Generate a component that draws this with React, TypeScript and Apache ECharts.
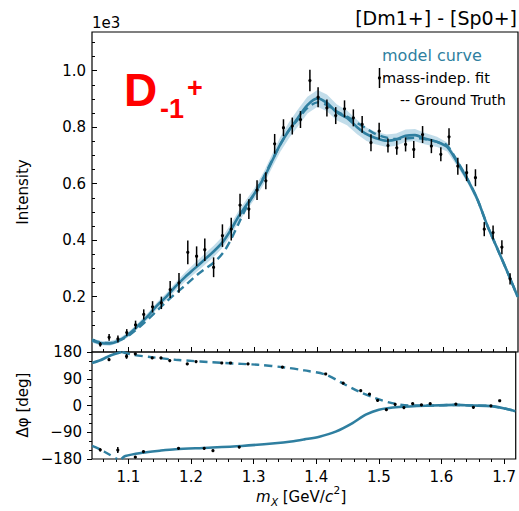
import React, { useEffect, useRef } from "react";
import * as echarts from "echarts";

// ---------- data ----------
const massBins = [1.055,1.069,1.083,1.097,1.111,1.124,1.138,1.152,1.166,1.180,1.194,1.208,1.221,1.235,1.249,1.263,1.277,1.291,1.304,1.318,1.332,1.346,1.360,1.373,1.388,1.401,1.415,1.429,1.443,1.457,1.471,1.485,1.498,1.512,1.526,1.540,1.553,1.567,1.581,1.596,1.609,1.623,1.637,1.651,1.665,1.679,1.693,1.706];
const intensity = [0.031,0.056,0.050,0.073,0.100,0.137,0.164,0.178,0.225,0.249,0.357,0.343,0.366,0.304,0.416,0.439,0.524,0.510,0.577,0.610,0.741,0.798,0.804,0.827,0.965,0.906,0.868,0.841,0.865,0.833,0.810,0.745,0.786,0.735,0.727,0.739,0.721,0.774,0.733,0.704,0.766,0.662,0.639,0.621,0.439,0.427,0.375,0.263];
const intensityErr = [0.008,0.012,0.012,0.012,0.015,0.018,0.020,0.022,0.030,0.035,0.042,0.035,0.040,0.035,0.040,0.040,0.040,0.035,0.035,0.030,0.035,0.030,0.030,0.030,0.038,0.035,0.030,0.030,0.030,0.030,0.030,0.030,0.030,0.025,0.025,0.025,0.030,0.030,0.025,0.025,0.030,0.030,0.030,0.030,0.025,0.025,0.025,0.020];

const curveMass = [1.042,1.055,1.070,1.085,1.100,1.115,1.130,1.145,1.160,1.175,1.190,1.205,1.220,1.235,1.250,1.262,1.275,1.288,1.300,1.315,1.330,1.341,1.355,1.368,1.384,1.400,1.415,1.431,1.447,1.463,1.478,1.492,1.510,1.525,1.540,1.555,1.570,1.590,1.606,1.622,1.638,1.654,1.670,1.686,1.702,1.718];
const modelIntensity = [0.045,0.036,0.034,0.045,0.067,0.097,0.130,0.168,0.200,0.237,0.270,0.300,0.330,0.360,0.395,0.435,0.485,0.527,0.565,0.621,0.690,0.739,0.790,0.830,0.878,0.902,0.886,0.852,0.833,0.800,0.775,0.762,0.752,0.756,0.770,0.772,0.760,0.748,0.730,0.676,0.616,0.545,0.451,0.369,0.286,0.200];
const truthIntensity = [0.048,0.038,0.036,0.045,0.062,0.088,0.118,0.150,0.182,0.212,0.240,0.270,0.296,0.320,0.355,0.400,0.460,0.520,0.565,0.625,0.692,0.739,0.790,0.825,0.868,0.888,0.878,0.855,0.838,0.815,0.795,0.776,0.763,0.758,0.760,0.762,0.758,0.748,0.735,0.680,0.618,0.545,0.451,0.369,0.286,0.200];
const bandHalf = [0.008,0.008,0.008,0.008,0.009,0.010,0.011,0.012,0.013,0.014,0.016,0.018,0.020,0.020,0.020,0.020,0.020,0.020,0.020,0.022,0.024,0.026,0.028,0.030,0.030,0.030,0.030,0.028,0.026,0.025,0.024,0.022,0.022,0.022,0.022,0.022,0.020,0.018,0.016,0.014,0.012,0.012,0.010,0.010,0.010,0.010];

// phase panel
const modelPhaseA = [[1.042,143],[1.055,152],[1.066,163],[1.078,173],[1.089,180]];
const modelPhaseB = [[1.089,-180],[1.095,-170],[1.122,-159],[1.150,-152],[1.175,-147],[1.228,-142],[1.281,-136],[1.334,-127],[1.360,-121],[1.381,-114],[1.405,-105],[1.431,-88],[1.458,-59],[1.479,-31],[1.500,-14],[1.532,-5],[1.585,0],[1.622,2],[1.648,0],[1.680,-2],[1.701,-10],[1.718,-19]];
const truthPhaseA = [[1.042,-136],[1.055,-148],[1.068,-163],[1.082,-180]];
const truthPhaseB = [[1.090,180],[1.106,171],[1.140,162],[1.175,154],[1.254,143],[1.307,137],[1.350,128],[1.381,118],[1.415,104],[1.441,76],[1.468,47],[1.494,25],[1.521,8],[1.548,0],[1.585,0],[1.622,2],[1.648,0],[1.680,-2],[1.701,-10],[1.718,-19]];
const phaseMass = [1.055,1.069,1.083,1.097,1.111,1.111,1.124,1.138,1.152,1.166,1.180,1.194,1.208,1.221,1.235,1.249,1.263,1.277,1.291,1.346,1.415,1.443,1.471,1.485,1.498,1.512,1.526,1.540,1.554,1.568,1.582,1.623,1.651,1.679,1.693];
const phaseDeg = [-149,154,-150,165,174,-174,-155,160,160,151,-144,140,148,-144,-152,143,143,-140,140,129,106,75,50,38,17,-14,4,-7,6,2,6,5,-6,-1,16];
const phaseErr = [5,4,10,8,3,2,3,3,3,3,2,2,2,2,2,2,2,2,2,2,3,2,2,2,2,2,3,2,2,2,2,2,2,2,2];

// axes
const X_MIN = 1.0418, X_MAX = 1.7186;
const xMajor = [1.1, 1.2, 1.3, 1.4, 1.5, 1.6, 1.7];
const yMajor = [0.2, 0.4, 0.6, 0.8, 1.0];
const phaseTicks = [-180, -90, 0, 90, 180];

const xMinor: number[] = [];
for (let k = 53; k <= 85; k++) xMinor.push(Math.round(k * 2) / 100);
const yMinor: number[] = [];
for (let k = 1; k <= 22; k++) yMinor.push(Math.round(k * 5) / 100);

const CURVE = "#2f7fa0";
const FONT = "DejaVu Sans";

export default function App() {
  const ref = useRef<HTMLDivElement>(null);
  useEffect(() => {
    const chart = echarts.init(ref.current!, undefined, { renderer: "svg" });

    const errRender = (params: any, api: any) => {
      const x = api.value(0), y = api.value(1), e = api.value(2);
      const t = api.coord([x, y + e]);
      const b = api.coord([x, y - e]);
      const c = api.coord([x, y]);
      return {
        type: "group",
        children: [
          { type: "line", shape: { x1: t[0], y1: t[1], x2: b[0], y2: b[1] }, style: { stroke: "#000", lineWidth: 1.5 } },
          { type: "circle", shape: { cx: c[0], cy: c[1], r: 1.6 }, style: { fill: "#000" } },
        ],
      };
    };

    const bandRender = (params: any, api: any) => {
      const up = curveMass.map((m, i) => api.coord([m, modelIntensity[i] + bandHalf[i]]));
      const lo = curveMass.map((m, i) => api.coord([m, modelIntensity[i] - bandHalf[i]])).reverse();
      return { type: "polygon", shape: { points: up.concat(lo) }, style: { fill: "rgba(120,180,208,0.45)" } };
    };

    const tickStyle = { color: "#000", width: 1 };
    const lbl = { color: "#000", fontSize: 15, fontFamily: FONT };
    const noLine = { show: false, onZero: false };

    const option: any = {
      animation: false,
      textStyle: { fontFamily: FONT },
      grid: [
        { left: 92, top: 32, width: 426, height: 320, show: true, borderColor: "#000", borderWidth: 1.2, backgroundColor: "transparent" },
        { left: 92, top: 352, width: 426, height: 107, show: true, borderColor: "#000", borderWidth: 1.2, backgroundColor: "transparent" },
      ],
      xAxis: [
        { gridIndex: 0, type: "value", position: "bottom", min: X_MIN, max: X_MAX, axisLine: noLine, splitLine: { show: false }, axisLabel: { show: false },
          axisTick: { show: true, inside: true, length: 5, customValues: xMajor, lineStyle: tickStyle } },
        { gridIndex: 0, type: "value", position: "bottom", min: X_MIN, max: X_MAX, axisLine: noLine, splitLine: { show: false }, axisLabel: { show: false },
          axisTick: { show: true, inside: true, length: 3, customValues: xMinor, lineStyle: tickStyle } },
        { gridIndex: 1, type: "value", position: "bottom", min: X_MIN, max: X_MAX, axisLine: noLine, splitLine: { show: false },
          axisLabel: { show: true, customValues: xMajor, margin: 10, formatter: (v: number) => v.toFixed(1), ...lbl },
          axisTick: { show: true, inside: false, length: 5, customValues: xMajor, lineStyle: tickStyle } },
        { gridIndex: 1, type: "value", position: "bottom", min: X_MIN, max: X_MAX, axisLine: noLine, splitLine: { show: false }, axisLabel: { show: false },
          axisTick: { show: true, inside: false, length: 3, customValues: xMinor, lineStyle: tickStyle } },
      ],
      yAxis: [
        { gridIndex: 0, type: "value", position: "left", min: 0.004, max: 1.137, axisLine: noLine, splitLine: { show: false },
          axisLabel: { show: true, customValues: yMajor, margin: 6, formatter: (v: number) => v.toFixed(1), ...lbl },
          axisTick: { show: true, inside: true, length: 5, customValues: yMajor, lineStyle: tickStyle } },
        { gridIndex: 0, type: "value", position: "left", min: 0.004, max: 1.137, axisLine: noLine, splitLine: { show: false }, axisLabel: { show: false },
          axisTick: { show: true, inside: true, length: 3, customValues: yMinor, lineStyle: tickStyle } },
        { gridIndex: 1, type: "value", position: "left", min: -180, max: 180, interval: 90, axisLine: noLine, splitLine: { show: false },
          axisLabel: { show: true, customValues: phaseTicks, margin: 10, formatter: (v: number) => (v < 0 ? "\u2212" + Math.abs(v) : String(v)), ...lbl },
          axisTick: { show: true, inside: false, length: 5, lineStyle: tickStyle },
          minorTick: { show: true, splitNumber: 3, length: 3, lineStyle: tickStyle } },
      ],
      series: [
        { type: "custom", xAxisIndex: 0, yAxisIndex: 0, renderItem: bandRender, data: [[1.4, 0.5]], encode: { x: 0, y: 1 }, silent: true, z: 1 },
        { type: "line", xAxisIndex: 0, yAxisIndex: 0, data: curveMass.map((m, i) => [m, truthIntensity[i]]), showSymbol: false, smooth: 0.3,
          lineStyle: { color: CURVE, width: 2.4, type: [8, 5] }, z: 2 },
        { type: "line", xAxisIndex: 0, yAxisIndex: 0, data: curveMass.map((m, i) => [m, modelIntensity[i]]), showSymbol: false, smooth: 0.3,
          lineStyle: { color: CURVE, width: 2.6 }, z: 3 },
        { type: "custom", xAxisIndex: 0, yAxisIndex: 0, renderItem: errRender, encode: { x: 0, y: 1 },
          data: massBins.map((m, i) => [m, intensity[i], intensityErr[i]]), z: 4 },

        { type: "line", xAxisIndex: 2, yAxisIndex: 2, data: truthPhaseA, showSymbol: false, smooth: 0.3, lineStyle: { color: CURVE, width: 2.4, type: [8, 5] }, z: 2 },
        { type: "line", xAxisIndex: 2, yAxisIndex: 2, data: truthPhaseB, showSymbol: false, smooth: 0.3, lineStyle: { color: CURVE, width: 2.4, type: [8, 5] }, z: 2 },
        { type: "line", xAxisIndex: 2, yAxisIndex: 2, data: modelPhaseA, showSymbol: false, smooth: 0.3, lineStyle: { color: CURVE, width: 2.6 }, z: 3 },
        { type: "line", xAxisIndex: 2, yAxisIndex: 2, data: modelPhaseB, showSymbol: false, smooth: 0.3, lineStyle: { color: CURVE, width: 2.6 }, z: 3 },
        { type: "custom", xAxisIndex: 2, yAxisIndex: 2, renderItem: errRender, encode: { x: 0, y: 1 },
          data: phaseMass.map((m, i) => [m, phaseDeg[i], phaseErr[i]]), z: 4 },
      ],
      graphic: [
        { type: "text", right: 2, top: 8, style: { text: "[Dm1+] - [Sp0+]", font: `19px '${FONT}'`, fill: "#000" } },
        { type: "text", x: 92, y: 23, style: { text: "1e3", font: `15px '${FONT}'`, fill: "#000", verticalAlign: "middle" } },
        { type: "text", x: 124, y: 90, style: { text: "D", font: "bold 46px 'Liberation Sans'", fill: "#ff0000", verticalAlign: "middle" } },
        { type: "text", x: 160, y: 109, style: { text: "-1", font: "bold 27px 'Liberation Sans'", fill: "#ff0000", verticalAlign: "middle" } },
        { type: "text", x: 187, y: 88, style: { text: "+", font: "bold 27px 'Liberation Sans'", fill: "#ff0000", verticalAlign: "middle" } },
        { type: "text", x: 382, y: 55, style: { text: "model curve", font: `16px '${FONT}'`, fill: CURVE, verticalAlign: "middle" } },
        { type: "line", shape: { x1: 379.5, y1: 68, x2: 379.5, y2: 88 }, style: { stroke: "#000", lineWidth: 1.5 } },
        { type: "circle", shape: { cx: 379.5, cy: 78, r: 1.6 }, style: { fill: "#000" } },
        { type: "text", x: 382, y: 78, style: { text: "mass-indep. fit", font: `14.5px '${FONT}'`, fill: "#000", verticalAlign: "middle" } },
        { type: "text", x: 400, y: 100, style: { text: "-- Ground Truth", font: `14px '${FONT}'`, fill: "#000", verticalAlign: "middle" } },
        { type: "text", x: 23, y: 192, rotation: Math.PI / 2, style: { text: "Intensity", font: `15px '${FONT}'`, fill: "#000", align: "center", verticalAlign: "middle" } },
        { type: "text", x: 23, y: 405, rotation: Math.PI / 2, style: { text: "\u0394\u03c6 [deg]", font: `15px '${FONT}'`, fill: "#000", align: "center", verticalAlign: "middle" } },
        { type: "text", x: 256, y: 497, style: { text: "m", font: `italic 15px '${FONT}'`, fill: "#000", verticalAlign: "middle" } },
        { type: "text", x: 271, y: 502, style: { text: "X", font: `italic 10.5px '${FONT}'`, fill: "#000", verticalAlign: "middle" } },
        { type: "text", x: 278, y: 497, style: { text: " [GeV/", font: `15px '${FONT}'`, fill: "#000", verticalAlign: "middle" } },
        { type: "text", x: 325, y: 497, style: { text: "c", font: `italic 15px '${FONT}'`, fill: "#000", verticalAlign: "middle" } },
        { type: "text", x: 333.5, y: 490, style: { text: "2", font: `10.5px '${FONT}'`, fill: "#000", verticalAlign: "middle" } },
        { type: "text", x: 340.5, y: 497, style: { text: "]", font: `15px '${FONT}'`, fill: "#000", verticalAlign: "middle" } },
      ],
    };
    chart.setOption(option);
    return () => chart.dispose();
  }, []);
  return <div ref={ref} style={{ position: "absolute", left: 0, top: 0, width: 519, height: 511 }} />;
}
